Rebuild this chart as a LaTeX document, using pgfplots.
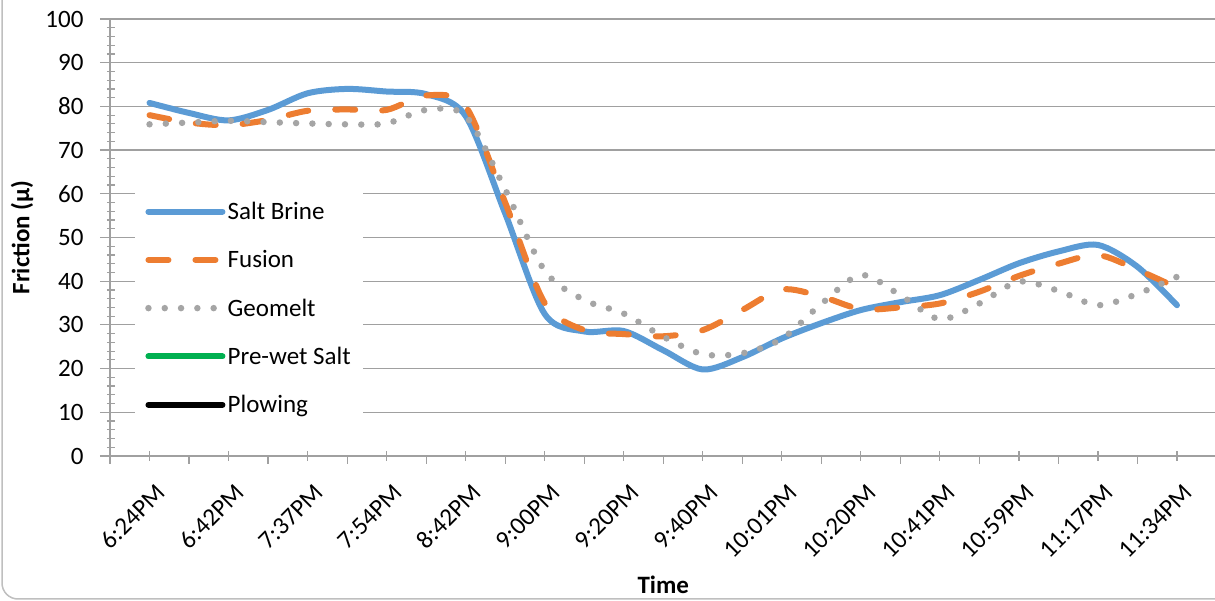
\documentclass[border=0pt]{standalone}
\usepackage{fontspec}
\setmainfont{Carlito}
\usepackage{pgfplots}
\pgfplotsset{compat=1.18}

\definecolor{brine}{RGB}{91,155,213}
\definecolor{fusion}{RGB}{237,125,49}
\definecolor{geomelt}{RGB}{165,165,165}
\definecolor{prewet}{RGB}{0,176,80}
\definecolor{gridc}{RGB}{160,160,160}
\definecolor{framec}{RGB}{191,191,191}

% friction readings, one row per reading (27 readings, labelled every other one)
\pgfplotstableread{
k  brine  fusion  geomelt
0  80.8   78.0    75.9
1  78.5   76.3    76.3
2  76.8   75.7    76.7
3  79.2   76.9    76.4
4  83.0   79.0    76.1
5  84.0   79.3    75.9
6  83.4   79.2    76.1
7  82.8   82.5    79.2
8  77.8   80.0    77.8
9  55.5   58.0    61.0
10 32.5   35.0    42.4
11 28.5   28.8    35.7
12 28.6   27.9    32.6
13 24.2   27.4    27.3
14 19.8   28.8    23.3
15 22.6   33.4    23.5
16 26.9   38.1    26.8
17 30.4   36.5    34.8
18 33.4   33.6    41.4
19 35.2   34.0    36.8
20 36.8   34.9    31.3
21 40.3   37.6    34.9
22 44.1   41.2    39.9
23 46.8   44.0    37.8
24 48.3   46.0    34.5
25 43.3   42.6    37.1
26 34.5   38.5    41.0
}\frictiondata

\newcommand\labelfont{\fontsize{25bp}{30bp}\selectfont}

\begin{document}
\begin{tikzpicture}
\useasboundingbox (0,0) rectangle (1215bp,601bp);
\begin{scope}
  \clip (0,0) rectangle (1215bp,601bp);
  \draw[framec, line width=1.5bp, rounded corners=16bp] (2bp,2bp) rectangle (1260bp,660bp);
\end{scope}
\begin{axis}[
  at={(110bp,145bp)}, anchor=south west,
  scale only axis, width=1106.5bp, height=437bp,
  xmin=-1, xmax=27, ymin=0, ymax=100,
  axis x line*=bottom, axis y line*=left,
  axis line style={gridc, line width=1.2bp},
  ymajorgrids, grid style={gridc, line width=1.2bp},
  ytick={0,10,...,100}, minor y tick num=4,
  xtick={0,2,...,26}, minor xtick={-1,1,...,27},
  xticklabels={6:24PM,6:42PM,7:37PM,7:54PM,8:42PM,9:00PM,9:20PM,9:40PM,10:01PM,10:20PM,10:41PM,10:59PM,11:17PM,11:34PM},
  tick align=outside,
  major tick length=10bp, minor tick length=8bp,
  tick style={gridc, line width=1.2bp},
  every major x tick/.append style={yshift=5bp},
  every minor y tick/.append style={xshift=5bp},
  /pgf/number format/assume math mode=true,
  yticklabel={\labelfont\pgfmathprintnumber{\tick}},
  yticklabel style={xshift=-13bp},
  xticklabel style={rotate=45, anchor=east, inner sep=0pt, yshift=-24bp, xshift=-8bp,
    font=\labelfont},
  xlabel={Time}, ylabel={Friction (μ)},
  every axis x label/.style={at={(axis description cs:0.5,-0.2952)}, anchor=center,
    font=\labelfont\bfseries},
  every axis y label/.style={at={(axis description cs:-0.0795,0.5)}, anchor=center, rotate=90,
    font=\labelfont\bfseries},
  legend style={at={(axis description cs:0.0226,0.6087)}, anchor=north west,
    draw=none, fill=white, inner xsep=10bp, inner ysep=10bp,
    font=\labelfont, row sep=25.5bp,
    /tikz/every even column/.append style={column sep=4bp}},
  legend cell align=left,
  legend image code/.code={\draw[#1] (0bp,0bp) -- (74bp,0bp);},
]
\addplot[brine, line width=6bp, smooth, line cap=round] table[x=k, y=brine] {\frictiondata};
\addlegendentry{Salt Brine}
\addplot[fusion, line width=6bp, smooth, line cap=round, dash pattern=on 20bp off 27bp] table[x=k, y=fusion] {\frictiondata};
\addlegendentry{Fusion}
\addplot[geomelt, line width=6.5bp, smooth, line cap=round, dash pattern=on 0bp off 16.3bp] table[x=k, y=geomelt] {\frictiondata};
\addlegendentry{Geomelt}
\addlegendimage{prewet, line width=6bp, line cap=round}
\addlegendentry{Pre-wet Salt}
\addlegendimage{black, line width=6bp, line cap=round}
\addlegendentry{Plowing}
\end{axis}
\end{tikzpicture}
\end{document}
